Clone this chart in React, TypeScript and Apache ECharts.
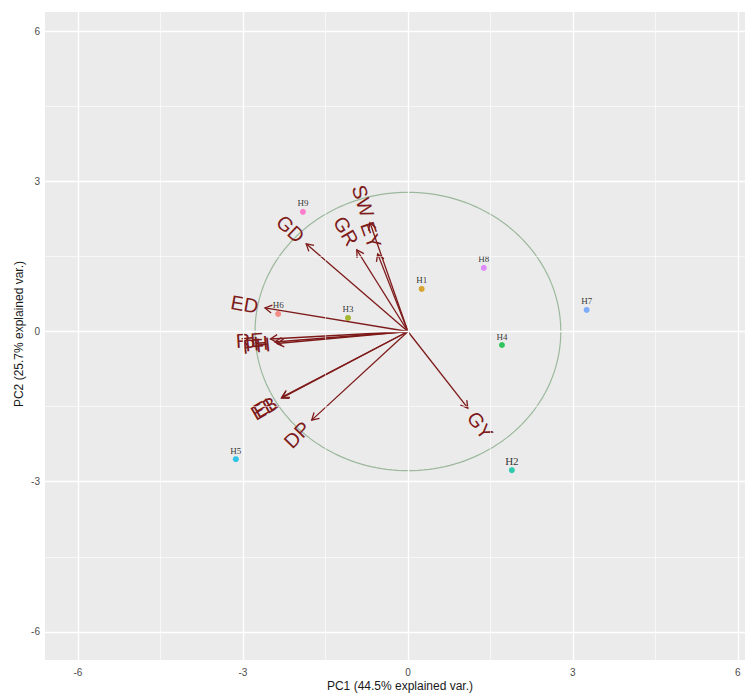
import React, { useEffect, useRef } from "react";
import * as echarts from "echarts";

// Sample scores (PC1, PC2)
const sampleNames = ["H1", "H2", "H3", "H4", "H5", "H6", "H7", "H8", "H9"];
const sampleX = [0.25, 1.89, -1.09, 1.71, -3.13, -2.36, 3.25, 1.38, -1.91];
const sampleY = [0.85, -2.77, 0.27, -0.27, -2.55, 0.35, 0.43, 1.27, 2.39];
const sampleColors = ["#D39200", "#00C19F", "#93AA00", "#00BA38", "#00B9E3", "#F8766D", "#619CFF", "#DB72FB", "#FF61C3"];

// Variable loadings (arrow tips)
const varNames = ["GD", "GR", "EY", "SW", "ED", "RE", "PH", "TH", "EL", "EB", "DP", "GY"];
const varX = [-1.85, -0.93, -0.55, -0.69, -2.60, -2.50, -2.38, -2.42, -2.29, -2.30, -1.75, 1.09];
const varY = [1.75, 1.63, 1.55, 2.17, 0.47, -0.15, -0.24, -0.21, -1.31, -1.33, -1.77, -1.53];

const circleRadius = 2.78;

const majorTicks = [-6, -3, 0, 3, 6];
const minorTicks = [-4.5, -1.5, 1.5, 4.5];

const xTitle = "PC1 (44.5% explained var.)";
const yTitle = "PC2 (25.7% explained var.)";

const ARROW = "#7E1A1A";

export default function App() {
  const ref = useRef<HTMLDivElement>(null);
  useEffect(() => {
    if (!ref.current) return;
    const chart = echarts.init(ref.current, undefined, { renderer: "svg" });

    const gridLines = (vals: number[], width: number) => [
      ...vals.map((v) => ({ xAxis: v })),
      ...vals.map((v) => ({ yAxis: v })),
    ].map((d) => ({ ...d, lineStyle: { color: "#FFFFFF", width, type: "solid" } }));

    const titleStyle = {
      fill: "#1A1A1A",
      fontSize: 12,
      fontFamily: "Liberation Sans",
      align: "center",
      verticalAlign: "middle",
    };

    const option: any = {
      animation: false,
      backgroundColor: "#FFFFFF",
      grid: {
        left: 45,
        right: 0,
        top: 12,
        bottom: 33,
        show: true,
        backgroundColor: "#EBEBEB",
        borderWidth: 0,
        containLabel: false,
        outerBoundsMode: "none",
      },
      graphic: [
        { type: "text", x: 400, y: 686, silent: true, style: { ...titleStyle, text: xTitle } },
        { type: "text", x: 19, y: 334, rotation: Math.PI / 2, silent: true, style: { ...titleStyle, text: yTitle } },
      ],
      xAxis: {
        type: "value",
        min: -6.6,
        max: 6.13,
        splitLine: { show: false },
        axisLine: { show: false },
        axisTick: { show: true, length: 3, lineStyle: { color: "#333333", width: 1 }, customValues: majorTicks },
        axisLabel: { color: "#4D4D4D", fontSize: 10, margin: 7, fontFamily: "Liberation Sans", customValues: majorTicks },
      },
      yAxis: {
        type: "value",
        min: -6.56,
        max: 6.38,
        splitLine: { show: false },
        axisLine: { show: false },
        axisTick: { show: true, length: 3, lineStyle: { color: "#333333", width: 1 }, customValues: majorTicks },
        axisLabel: { color: "#4D4D4D", fontSize: 10, margin: 5, fontFamily: "Liberation Sans", customValues: majorTicks },
      },
      series: [
        {
          type: "line",
          data: [],
          silent: true,
          markLine: {
            silent: true,
            symbol: ["none", "none"],
            label: { show: false },
            animation: false,
            data: [...gridLines(minorTicks, 0.6), ...gridLines(majorTicks, 1.3)],
          },
        },
        {
          type: "custom",
          silent: true,
          data: [[0, 0, circleRadius]],
          renderItem: (params: any, api: any) => {
            const r = api.value(2);
            const pts: number[][] = [];
            for (let i = 0; i <= 180; i++) {
              const t = (i / 180) * Math.PI * 2;
              pts.push(api.coord([api.value(0) + r * Math.cos(t), api.value(1) + r * Math.sin(t)]));
            }
            return {
              type: "polyline",
              shape: { points: pts },
              style: { stroke: "#9CB89C", lineWidth: 1.2, fill: null },
            };
          },
          z: 2,
        },
        {
          type: "scatter",
          data: sampleNames.map((n, i) => ({
            value: [sampleX[i], sampleY[i]],
            name: n,
            itemStyle: { color: sampleColors[i] },
            label: n === "H2" ? { fontSize: 11 } : undefined,
          })),
          symbolSize: 6,
          label: {
            show: true,
            formatter: (p: any) => p.name,
            position: "top",
            distance: 1,
            color: "#000000",
            fontSize: 9,
            fontFamily: "Liberation Serif",
          },
          z: 3,
        },
        {
          type: "custom",
          silent: true,
          data: varNames.map((n, i) => [varX[i], varY[i], i]),
          renderItem: (params: any, api: any) => {
            const x = api.value(0);
            const y = api.value(1);
            const name = varNames[api.value(2)];
            const p0 = api.coord([0, 0]);
            const p1 = api.coord([x, y]);
            const a = Math.atan2(p1[1] - p0[1], p1[0] - p0[0]);
            const hl = 8;
            const ha = Math.PI / 6;
            const h1 = [p1[0] - hl * Math.cos(a - ha), p1[1] - hl * Math.sin(a - ha)];
            const h2 = [p1[0] - hl * Math.cos(a + ha), p1[1] - hl * Math.sin(a + ha)];
            const theta = Math.atan(y / x);
            const fs = 20;
            const gap = 0.25 * fs * 0.68 * name.length;
            const sgn = x < 0 ? -1 : 1;
            const ax = p1[0] + sgn * gap * Math.cos(theta);
            const ay = p1[1] - sgn * gap * Math.sin(theta);
            return {
              type: "group",
              children: [
                {
                  type: "line",
                  shape: { x1: p0[0], y1: p0[1], x2: p1[0], y2: p1[1] },
                  style: { stroke: ARROW, lineWidth: 1.3 },
                },
                {
                  type: "polyline",
                  shape: { points: [h1, p1, h2] },
                  style: { stroke: ARROW, lineWidth: 1.3, fill: null },
                },
                {
                  type: "text",
                  x: ax,
                  y: ay,
                  rotation: theta,
                  style: {
                    text: name,
                    fill: ARROW,
                    fontSize: fs,
                    fontFamily: "Liberation Sans",
                    align: x < 0 ? "right" : "left",
                    verticalAlign: "middle",
                  },
                },
              ],
            };
          },
          z: 4,
        },
      ],
    };
    chart.setOption(option);
    return () => chart.dispose();
  }, []);
  return <div ref={ref} style={{ position: "absolute", left: 0, top: 0, width: 745, height: 693 }} />;
}
